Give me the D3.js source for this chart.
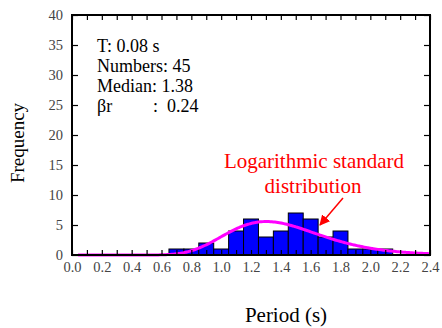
<!DOCTYPE html>
<html>
<head>
<meta charset="utf-8">
<script src="https://cdn.jsdelivr.net/npm/d3@7"></script>
<style>
  body { margin: 0; background: #fff; }
  svg text { font-family: "Liberation Serif", "Times New Roman", Times, "DejaVu Serif", serif; }
</style>
</head>
<body>
<div id="chart"></div>
<script>
// Histogram bins (centre of 0.1 s bin) and counts
let binCentres = [0.7, 0.8, 0.9, 1.0, 1.1, 1.2, 1.3, 1.4, 1.5, 1.6, 1.7, 1.8, 1.9, 2.0, 2.1]
let counts     = [1,   1,   2,   1,   4,   6,   3,   4,   7,   6,   3,   4,   1,   1,   1]
let binWidth = 0.1

// Fit parameters shown in the chart
let period = 0.08
let numbers = 45
let median = 1.38
let betaR = 0.24

let xTicks = [0.0, 0.2, 0.4, 0.6, 0.8, 1.0, 1.2, 1.4, 1.6, 1.8, 2.0, 2.2, 2.4]
let yTicks = [0, 5, 10, 15, 20, 25, 30, 35, 40]

let width = 442
let height = 328
let margin = { left: 72, right: 12, top: 15, bottom: 73 }
let serif = '"Liberation Serif", "Times New Roman", Times, "DejaVu Serif", serif'

let svg = d3.select("#chart").append("svg")
    .attr("width", width)
    .attr("height", height)
    .attr("font-family", serif)

let x = d3.scaleLinear().domain([0, 2.4]).range([margin.left, width - margin.right])
let y = d3.scaleLinear().domain([0, 40]).range([height - margin.bottom, margin.top])

// Bars
svg.selectAll("rect.bar")
    .data(binCentres)
    .enter().append("rect")
    .attr("class", "bar")
    .attr("x", (d) => x(d - binWidth / 2))
    .attr("width", (d) => x(d + binWidth / 2) - x(d - binWidth / 2))
    .attr("y", (d, i) => y(counts[i]))
    .attr("height", (d, i) => y(0) - y(counts[i]))
    .style("fill", "#0000ff")
    .style("stroke", "#000")
    .style("stroke-width", 1)

// Lognormal curve scaled to the histogram
function lognormal(t) {
  let z = Math.log(t / median) / betaR
  return numbers * binWidth * Math.exp(-0.5 * z * z) / (t * betaR * Math.sqrt(2 * Math.PI))
}
let curveX = d3.range(0.04, 2.401, 0.01)
let line = d3.line()
    .x((d) => x(d))
    .y((d) => y(lognormal(d)))
    .curve(d3.curveBasis)
svg.append("path")
    .datum(curveX)
    .attr("d", line)
    .style("fill", "none")
    .style("stroke", "#ff00ff")
    .style("stroke-width", 3)

// Inward minor ticks on all sides
let minorX = d3.range(0, 25).map((i) => i / 10)
let axisStyle = (g) => {
  g.select(".domain").remove()
  g.selectAll(".tick line").style("stroke", "#000").style("stroke-width", 1.2)
}
svg.append("g")
    .attr("transform", "translate(0," + y(0) + ")")
    .call(d3.axisBottom(x).tickValues(minorX).tickSize(-5).tickFormat(""))
    .call(axisStyle)
svg.append("g")
    .attr("transform", "translate(0," + y(40) + ")")
    .call(d3.axisTop(x).tickValues(minorX).tickSize(-5).tickFormat(""))
    .call(axisStyle)
svg.append("g")
    .attr("transform", "translate(" + x(0) + ",0)")
    .call(d3.axisLeft(y).tickValues(yTicks).tickSize(-6).tickFormat(""))
    .call(axisStyle)
svg.append("g")
    .attr("transform", "translate(" + x(2.4) + ",0)")
    .call(d3.axisRight(y).tickValues(yTicks).tickSize(-6).tickFormat(""))
    .call(axisStyle)

// Tick labels
let labelStyle = (g) => {
  g.attr("font-family", serif).attr("font-size", 14.5)
  g.select(".domain").remove()
  g.selectAll(".tick line").remove()
  g.selectAll(".tick text").style("fill", "#444")
}
svg.append("g")
    .attr("transform", "translate(0," + (y(0) + 4) + ")")
    .call(d3.axisBottom(x).tickValues(xTicks).tickSize(0).tickFormat(d3.format(".1f")))
    .call(labelStyle)
svg.append("g")
    .attr("transform", "translate(" + (x(0) - 6) + ",0)")
    .call(d3.axisLeft(y).tickValues(yTicks).tickSize(0).tickFormat(d3.format("d")))
    .call(labelStyle)

// Frame
svg.append("rect")
    .attr("x", x(0))
    .attr("y", y(40))
    .attr("width", x(2.4) - x(0))
    .attr("height", y(0) - y(40))
    .style("fill", "none")
    .style("stroke", "#000")
    .style("stroke-width", 2)

// Axis titles
svg.append("text")
    .attr("transform", "translate(24," + (y(20) + 8) + ") rotate(-90)")
    .attr("text-anchor", "middle")
    .style("font-size", "19px")
    .text("Frequency")
svg.append("text")
    .attr("x", 286)
    .attr("y", 322)
    .attr("text-anchor", "middle")
    .style("font-size", "21px")
    .text("Period (s)")

// Info block
let info = svg.append("g").style("font-size", "18px").style("fill", "#000")
info.append("text").attr("x", 97).attr("y", 52).text("T: " + period.toFixed(2) + " s")
info.append("text").attr("x", 97).attr("y", 72).text("Numbers: " + numbers)
info.append("text").attr("x", 97).attr("y", 92).text("Median: " + median.toFixed(2))
info.append("text").attr("x", 97).attr("y", 112).text("βr")
info.append("text").attr("x", 153).attr("y", 112).text(":")
info.append("text").attr("x", 167).attr("y", 112).text(betaR.toFixed(2))

// Annotation
svg.append("defs").append("marker")
    .attr("id", "arrow")
    .attr("viewBox", "0 0 10 10")
    .attr("refX", 9).attr("refY", 5)
    .attr("markerWidth", 7).attr("markerHeight", 7)
    .attr("orient", "auto")
    .append("path")
    .attr("d", "M0,0 L10,5 L0,10 Z")
    .style("fill", "#ff0000")
svg.append("line")
    .attr("x1", 343).attr("y1", 198)
    .attr("x2", 320).attr("y2", 225)
    .style("stroke", "#ff0000")
    .style("stroke-width", 1.5)
    .attr("marker-end", "url(#arrow)")
let note = svg.append("g").style("font-size", "21px").style("fill", "#ff0000").attr("text-anchor", "middle")
note.append("text").attr("x", 314).attr("y", 168).text("Logarithmic standard")
note.append("text").attr("x", 313).attr("y", 193).text("distribution")
</script>
</body>
</html>
